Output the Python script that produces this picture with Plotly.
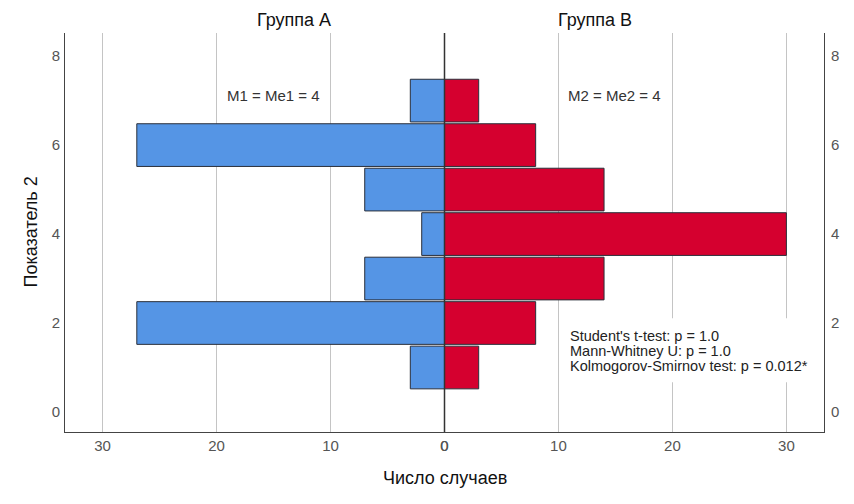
import plotly.graph_objects as go
from plotly.subplots import make_subplots

# значения показателя 2 (категории) и число случаев в каждой группе
levels = [1, 2, 3, 4, 5, 6, 7]
group_a = [3, 27, 7, 2, 7, 27, 3]
group_b = [3, 8, 14, 30, 14, 8, 3]

y_ticks = [0, 2, 4, 6, 8]
x_ticks = [0, 10, 20, 30]

stats_lines = ["Student's t-test: p = 1.0",
               "Mann-Whitney U: p = 1.0",
               "Kolmogorov-Smirnov test: p = 0.012*"]

font = "Arial, Liberation Sans, sans-serif"
blue = "#5595E5"
red = "#D5002F"
edge = "#2A2F3A"

fig = make_subplots(rows=1, cols=2, shared_yaxes=False, horizontal_spacing=0)

fig.add_trace(go.Bar(y=levels, x=group_a, orientation="h", width=0.96,
                     marker=dict(color=blue, line=dict(color=edge, width=1))),
              row=1, col=1)
fig.add_trace(go.Bar(y=levels, x=group_b, orientation="h", width=0.96,
                     marker=dict(color=red, line=dict(color=edge, width=1))),
              row=1, col=2)

xcommon = dict(range=[0, 33.3], tickvals=x_ticks, showgrid=True,
               gridcolor="#C4C4C4", gridwidth=1, showline=True,
               linecolor="#444444", linewidth=1, ticks="", automargin=False,
               tickfont=dict(size=15, color="#555555", family=font),
               zeroline=False)
fig.update_xaxes(**xcommon)
fig.update_xaxes(autorange=False, range=[33.3, 0], row=1, col=1)

ycommon = dict(range=[-0.45, 8.52], tickvals=y_ticks, showgrid=False,
               showline=True, linecolor="#444444", linewidth=1, ticks="",
               zeroline=False, automargin=False,
               tickfont=dict(size=15, color="#555555", family=font))
fig.update_yaxes(**ycommon)
fig.update_yaxes(side="left", ticklabelstandoff=1, row=1, col=1)
fig.update_yaxes(side="right", ticklabelstandoff=3, row=1, col=2)
fig.update_layout(yaxis2=dict(matches="y", showticklabels=True))

# центральная линия
fig.add_shape(type="line", xref="paper", yref="paper", x0=0.5, x1=0.5, y0=0, y1=1,
              line=dict(color="#333333", width=1.5))

fig.add_annotation(text="Группа A", xref="paper", yref="paper", x=0.25, y=1.0,
                   yshift=13, yanchor="middle", showarrow=False,
                   font=dict(size=18, color="#111111", family=font))
fig.add_annotation(text="Группа B", xref="paper", yref="paper", x=0.75, y=1.0,
                   yshift=13, yanchor="middle", showarrow=False,
                   font=dict(size=18, color="#111111", family=font))

fig.add_annotation(text="M1 = Me1 = 4", xref="x", yref="y", x=19.3, y=7.12,
                   xanchor="left", showarrow=False,
                   font=dict(size=15, color="#333333", family=font))
fig.add_annotation(text="M2 = Me2 = 4", xref="x2", yref="y2", x=10.7, y=7.12,
                   xanchor="left", showarrow=False,
                   font=dict(size=15, color="#333333", family=font))

# белая подложка под блоком статистики
fig.add_shape(type="rect", xref="x2", yref="y2", x0=10.4, x1=32.6, y0=0.67, y1=2.11,
              fillcolor="white", line=dict(width=0), layer="between")
for i, line in enumerate(stats_lines):
    fig.add_annotation(text=line, xref="x2", yref="y2", x=10.8, y=1.71 - 0.34 * i,
                       xanchor="left", yanchor="middle", showarrow=False,
                       font=dict(size=14.5, color="#222222", family=font))

fig.add_annotation(text="Число случаев", xref="paper", yref="paper", x=0.5, y=0,
                   yshift=-46, yanchor="middle", showarrow=False,
                   font=dict(size=18, color="#111111", family=font))
fig.add_annotation(text="Показатель 2", xref="paper", yref="paper", x=0, y=0.5,
                   xshift=-35, xanchor="center", yanchor="middle", textangle=-90,
                   showarrow=False, font=dict(size=18, color="#111111", family=font))

# страница рисуется со смещением 8 px (отступ body), поэтому поля сдвинуты
fig.update_layout(width=854, height=504, showlegend=False,
                  margin=dict(l=57, r=38, t=25, b=80),
                  plot_bgcolor="white", paper_bgcolor="white",
                  bargap=0.04)

fig.write_html("out.html")
